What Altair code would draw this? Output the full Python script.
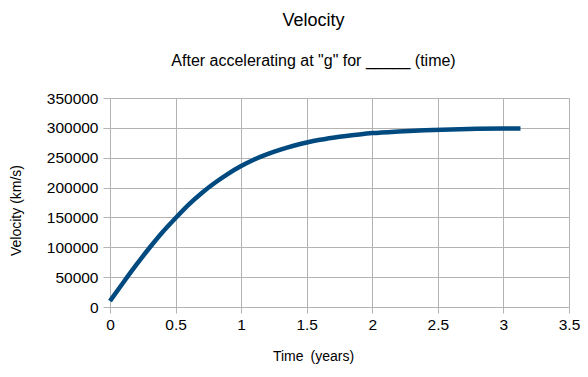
import altair as alt
import pandas as pd

time_years = [0, 0.1, 0.2, 0.3, 0.4, 0.5, 0.6, 0.7, 0.8, 0.9, 1.0, 1.1, 1.2, 1.3,
              1.4, 1.5, 1.6, 1.7, 1.8, 1.9, 2.0, 2.2, 2.4, 2.6, 2.8, 3.0, 3.13]
velocity_kms = [10000, 40600, 70400, 98800, 125300, 149000, 171500, 191000, 208000,
                223000, 236000, 247000, 256000, 263500, 270000, 275500, 280000,
                283500, 286500, 289000, 291200, 294000, 296000, 297400, 298300,
                298800, 299000]

x_ticks = [0, 0.5, 1, 1.5, 2, 2.5, 3, 3.5]
y_ticks = [0, 50000, 100000, 150000, 200000, 250000, 300000, 350000]

df = pd.DataFrame({"t": time_years, "v": velocity_kms})

FONT = "Liberation Sans"
GRID = "#b3b3b3"

chart = alt.Chart(df).mark_line(color="#004a80", strokeWidth=4.5, strokeCap="butt",
                                interpolate="monotone").encode(
    x=alt.X("t:Q", scale=alt.Scale(domain=[0, 3.5], nice=False, zero=False),
            axis=alt.Axis(values=x_ticks, format="~g", title="Time\u2002(years)",
                          grid=True, gridColor=GRID, domainColor=GRID, tickColor=GRID,
                          tickSize=6, labelPadding=4, labelFontSize=15.5, labelFont=FONT,
                          labelColor="black", titleFont=FONT, titleFontSize=14,
                          titleFontWeight="normal", titleColor="black",
                          titleX=203, titleY=53, titleBaseline="alphabetic",
                          labelFlush=False)),
    y=alt.Y("v:Q", scale=alt.Scale(domain=[0, 350000], nice=False),
            axis=alt.Axis(values=y_ticks, format="d", title="Velocity (km/s)",
                          grid=True, gridColor=GRID, domainColor=GRID, tickColor=GRID,
                          tickSize=7, labelPadding=5, labelFontSize=15.5, labelFont=FONT,
                          labelColor="black", titleFont=FONT, titleFontSize=14,
                          titleFontWeight="normal", titleColor="black",
                          titleX=-87, titleY=112, labelFlush=False)),
).properties(
    width=459,
    height=209,
    title=alt.TitleParams(
        text="Velocity",
        subtitle='After accelerating at "g" for _____ (time)',
        font=FONT, fontSize=18, fontWeight="normal", color="black",
        subtitleFont=FONT, subtitleFontSize=16, subtitleColor="black",
        subtitlePadding=23, anchor="middle", dx=-26, offset=22,
    ),
    autosize=alt.AutoSizeParams(type="none"),
    padding={"left": 102, "top": 90, "right": 11, "bottom": 60},
).configure_view(stroke=GRID, strokeWidth=1).configure(background="white")

chart.save("out.html", embed_options={"renderer": "svg", "actions": False})
